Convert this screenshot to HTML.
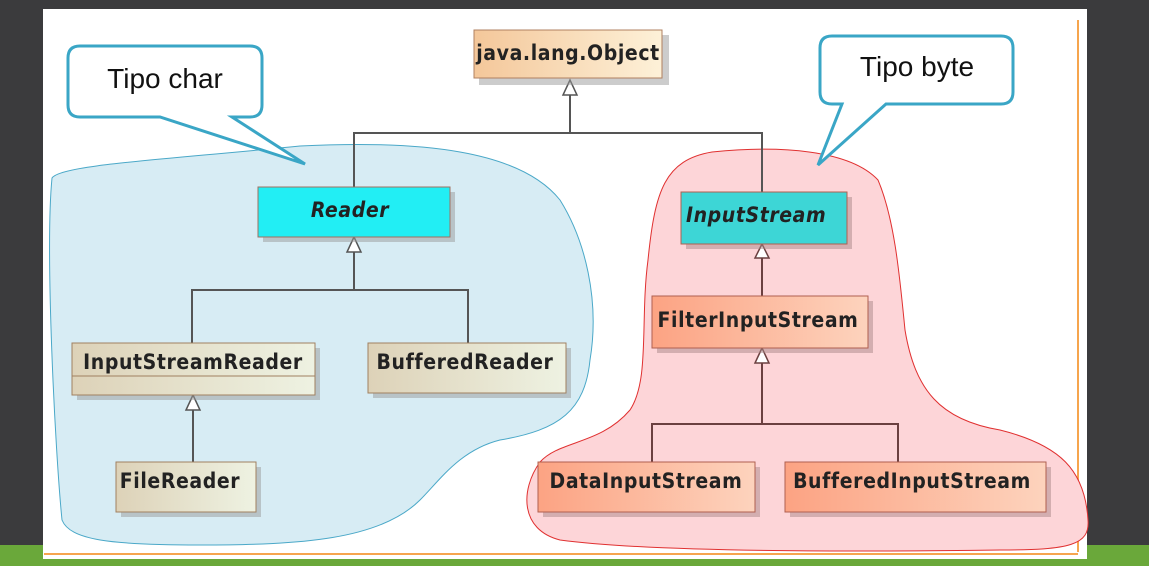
<!DOCTYPE html>
<html><head><meta charset="utf-8"><style>
html,body{margin:0;padding:0;width:1149px;height:566px;overflow:hidden;background:#3b3b3d;}
svg{display:block}
.n{font-family:"DejaVu Sans Condensed","Liberation Sans",sans-serif;font-weight:bold;font-size:21px;letter-spacing:0.6px;fill:#222}
.c{font-family:"Liberation Sans",sans-serif;font-size:28px;fill:#111}
</style></head><body>
<svg width="1149" height="566" viewBox="0 0 1149 566">
<defs>
<linearGradient id="obj" x1="0" y1="0" x2="1" y2="0"><stop offset="0" stop-color="#f4c79a"/><stop offset="1" stop-color="#fdf1d8"/></linearGradient>
<linearGradient id="sal" x1="0" y1="0" x2="1" y2="0"><stop offset="0" stop-color="#fca383"/><stop offset="1" stop-color="#fdd3bd"/></linearGradient>
<linearGradient id="bei" x1="0" y1="0" x2="1" y2="0"><stop offset="0" stop-color="#ddd2b8"/><stop offset="1" stop-color="#eef2e2"/></linearGradient>
</defs>
<rect x="0" y="545" width="1149" height="21" fill="#6aa83a"/>
<rect x="43" y="9" width="1044" height="550" fill="#ffffff"/>
<line x1="1078" y1="20" x2="1078" y2="552" stroke="#f6a54e" stroke-width="2"/>
<line x1="44" y1="554" x2="1078" y2="554" stroke="#f6a54e" stroke-width="2"/>
<!-- blobs -->
<path d="M52,178 C60,165 160,160 300,146 C420,140 520,150 560,200 C585,240 600,300 590,360 C585,410 560,430 500,440 C460,450 440,480 420,500 C380,540 300,545 200,545 C110,545 70,540 62,520 C55,450 45,250 52,178 Z" fill="#d7ecf4" stroke="#4aa8c8" stroke-width="1"/>
<path d="M712,152 C780,145 850,150 878,180 C895,220 900,280 905,330 C915,390 940,420 1000,430 C1060,445 1085,470 1088,520 C1090,545 1070,550 1000,550 C850,552 650,552 560,540 C520,530 520,490 540,462 C560,440 600,445 630,410 C650,380 640,320 648,260 C655,190 665,160 712,152 Z" fill="#fdd5d8" stroke="#e03030" stroke-width="1"/>
<!-- callouts -->
<path d="M80,46 H250 Q262,46 262,58 V105 Q262,117 250,117 H232 L305,164 L160,117 H80 Q68,117 68,105 V58 Q68,46 80,46 Z" fill="#fff" stroke="#3aa6c6" stroke-width="3"/>
<text class="c" x="165" y="88" text-anchor="middle">Tipo char</text>
<path d="M832,36 H1001 Q1013,36 1013,48 V92 Q1013,104 1001,104 H886 L818,165 L842,104 H832 Q820,104 820,92 V48 Q820,36 832,36 Z" fill="#fff" stroke="#3aa6c6" stroke-width="3"/>
<text class="c" x="917" y="76" text-anchor="middle">Tipo byte</text>
<!-- connectors -->
<g stroke="#555" stroke-width="2" fill="none">
<path d="M570,95 V133 M354,187 V133 H762 V192"/>
<path d="M354,252 V290 M192,343 V290 H468 V343"/>
<path d="M193,410 V462"/>
</g>
<g stroke="#6b4040" stroke-width="2" fill="none">
<path d="M762,258 V296"/>
<path d="M762,363 V424 M652,462 V424 H898 V462"/>
</g>
<g fill="#fff" stroke="#555" stroke-width="1.5">
<path d="M570,80 L563,95 H577 Z"/>
<path d="M354,237 L347,252 H361 Z"/>
<path d="M193,395 L186,410 H200 Z"/>
</g>
<g fill="#fff" stroke="#6b4040" stroke-width="1.5">
<path d="M762,244 L755,258 H769 Z"/>
<path d="M762,348 L755,363 H769 Z"/>
</g>
<!-- nodes -->
<g>
<rect x="479" y="35" width="190" height="50" fill="#999" opacity="0.5"/>
<rect x="474" y="30" width="188" height="48" fill="url(#obj)" stroke="#b08060"/>
<text class="n" x="568" y="60" text-anchor="middle">java.lang.Object</text>

<rect x="263" y="192" width="192" height="50" fill="#999" opacity="0.5"/>
<rect x="258" y="187" width="192" height="50" fill="#22eef4" stroke="#a07060"/>
<text class="n" x="350" y="217" text-anchor="middle" font-style="italic">Reader</text>

<rect x="686" y="197" width="166" height="52" fill="#a88" opacity="0.5"/>
<rect x="681" y="192" width="166" height="52" fill="#3dd6d6" stroke="#b06050"/>
<text class="n" x="686" y="222" font-style="italic" fill="#3a1010">InputStream</text>

<rect x="657" y="301" width="216" height="52" fill="#a88" opacity="0.5"/>
<rect x="652" y="296" width="216" height="52" fill="url(#sal)" stroke="#b06050"/>
<text class="n" x="758" y="327" text-anchor="middle" fill="#3a1010">FilterInputStream</text>

<rect x="77" y="348" width="243" height="52" fill="#999" opacity="0.5"/>
<rect x="72" y="343" width="243" height="52" fill="url(#bei)" stroke="#a08060"/>
<line x1="72" y1="376" x2="315" y2="376" stroke="#a08060"/>
<text class="n" x="193" y="369" text-anchor="middle">InputStreamReader</text>

<rect x="373" y="348" width="198" height="50" fill="#999" opacity="0.5"/>
<rect x="368" y="343" width="198" height="50" fill="url(#bei)" stroke="#a08060"/>
<text class="n" x="465" y="369" text-anchor="middle">BufferedReader</text>

<rect x="121" y="467" width="140" height="50" fill="#999" opacity="0.5"/>
<rect x="116" y="462" width="140" height="50" fill="url(#bei)" stroke="#a08060"/>
<text class="n" x="180" y="488" text-anchor="middle">FileReader</text>

<rect x="543" y="467" width="217" height="50" fill="#a88" opacity="0.5"/>
<rect x="538" y="462" width="217" height="50" fill="url(#sal)" stroke="#b06050"/>
<text class="n" x="646" y="488" text-anchor="middle" fill="#3a1010">DataInputStream</text>

<rect x="790" y="467" width="261" height="50" fill="#a88" opacity="0.5"/>
<rect x="785" y="462" width="261" height="50" fill="url(#sal)" stroke="#b06050"/>
<text class="n" x="912" y="488" text-anchor="middle" fill="#3a1010">BufferedInputStream</text>
</g>
</svg>
</body></html>
